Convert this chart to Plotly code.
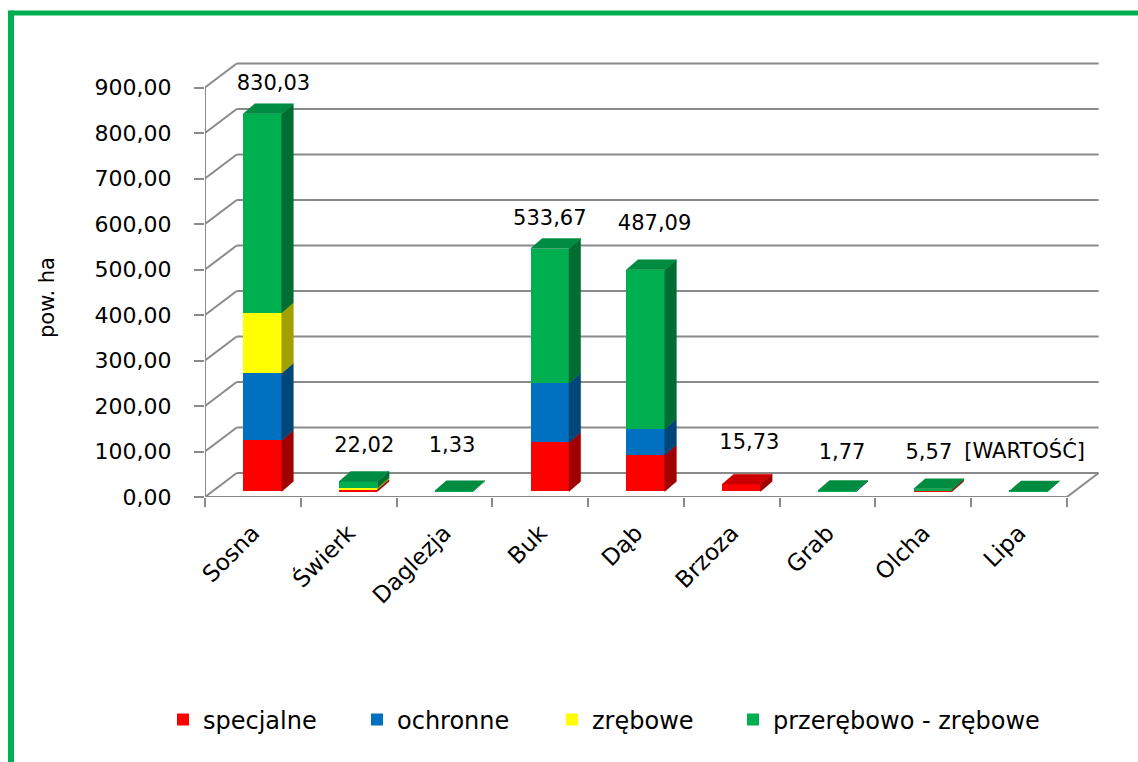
import plotly.graph_objects as go

# ---- data -------------------------------------------------------------
categories = ["Sosna", "Świerk", "Daglezja", "Buk", "Dąb", "Brzoza", "Grab", "Olcha", "Lipa"]
specjalne = [111.90, 4.00, 0.00, 107.50, 79.90, 15.73, 0.00, 3.00, 0.00]
ochronne = [148.00, 0.50, 0.00, 130.40, 57.10, 0.00, 0.30, 0.00, 0.00]
zrebowe = [133.00, 3.50, 0.00, 0.00, 0.00, 0.00, 0.00, 0.00, 0.00]
przerebowo_zrebowe = [437.13, 14.02, 1.33, 295.77, 350.09, 0.00, 1.47, 2.57, 0.90]
series_names = ["specjalne", "ochronne", "zrębowe", "przerębowo - zrębowe"]
y_ticks = [0, 100, 200, 300, 400, 500, 600, 700, 800, 900]
label_overrides = {8: "[WARTOŚĆ]"}

# ---- styling / geometry -------------------------------------------------
front_colors = ["#FF0000", "#0070C0", "#FFFF00", "#00B050"]
FONT = "DejaVu Sans"
GRID = "#8A8A8A"
W, H = 1138, 762
ML, MR, MT, MB = 205, 28, 42, 265
X_RANGE = [-0.5, 8.95]
Y_RANGE = [0, 1000]
PXC = (W - ML - MR) / (X_RANGE[1] - X_RANGE[0])   # px per category
PYU = (H - MT - MB) / (Y_RANGE[1] - Y_RANGE[0])   # px per value unit


def dx(px):
    return px / PXC


def dy(px):
    return px / PYU


def px_to_paper_x(px):
    return (px - ML) / (W - ML - MR)


def px_to_paper_y(py):
    return (H - MB - py) / (H - MT - MB)


# oblique depth of the walls and of the bars
WALL_DX, WALL_DY = dx(31.7), dy(24.0)
BAR_DX, BAR_DY = dx(11.6), dy(10.0)
BAR_SHIFT_X, BAR_BASE = dx(38.3) - 0.5, dy(5.6)   # front face position in the box
BAR_W = dx(38.4)

# label offsets (px) from the top-front centre of each column
label_shift = [(11, -29), (6, -35), (-2, -44), (0, -29), (9, -45),
               (8, -40), (5, -37), (-4, -35), (-4, -38)]
# left edge (px) of each legend entry
legend_left_px = [163, 357, 552, 733]


def shade(hex_color, k):
    h = hex_color.lstrip("#")
    r, g, b = (int(h[i:i + 2], 16) for i in (0, 2, 4))
    return "rgb({},{},{})".format(int(r * k), int(g * k), int(b * k))


series = [specjalne, ochronne, zrebowe, przerebowo_zrebowe]
n = len(categories)
totals = [sum(s[i] for s in series) for i in range(n)]
legend_ids = ["legend", "legend2", "legend3", "legend4"]

fig = go.Figure()

# front faces as stacked bars
cum = [0.0] * n
segments = []  # (series index, cat, y0, y1)
for k, (name, vals) in enumerate(zip(series_names, series)):
    bases = [BAR_BASE + c for c in cum]
    fig.add_trace(go.Bar(
        x=[i + BAR_SHIFT_X + BAR_W / 2 for i in range(n)],
        y=vals, base=bases, width=BAR_W, name=name, legend=legend_ids[k],
        marker=dict(color=front_colors[k], line=dict(width=0)),
        hoverinfo="skip",
    ))
    for i in range(n):
        if vals[i] > 0:
            segments.append((k, i, bases[i], bases[i] + vals[i]))
    cum = [c + v for c, v in zip(cum, vals)]

# right-hand side faces
for k in range(len(series)):
    xs, ys = [], []
    for (s, i, y0, y1) in segments:
        if s != k:
            continue
        xr = i + BAR_SHIFT_X + BAR_W
        xs += [xr, xr + BAR_DX, xr + BAR_DX, xr, xr, None]
        ys += [y0, y0 + BAR_DY, y1 + BAR_DY, y1, y0, None]
    if xs:
        col = shade(front_colors[k], 0.63)
        fig.add_trace(go.Scatter(x=xs, y=ys, mode="lines", fill="toself",
                                 fillcolor=col, line=dict(color=col, width=0.5),
                                 showlegend=False, hoverinfo="skip"))

# top faces of each column (colour of its highest segment)
for k in range(len(series)):
    xs, ys = [], []
    for i in range(n):
        top_k = max((s for (s, c, a, b) in segments if c == i), default=None)
        if top_k != k:
            continue
        y1 = BAR_BASE + totals[i]
        xl = i + BAR_SHIFT_X
        xr = xl + BAR_W
        xs += [xl, xr, xr + BAR_DX, xl + BAR_DX, xl, None]
        ys += [y1, y1, y1 + BAR_DY, y1 + BAR_DY, y1, None]
    if xs:
        col = shade(front_colors[k], 0.8)
        fig.add_trace(go.Scatter(x=xs, y=ys, mode="lines", fill="toself",
                                 fillcolor=col, line=dict(color=col, width=0.5),
                                 showlegend=False, hoverinfo="skip"))

# value labels
lab_x, lab_y, lab_t = [], [], []
for i in range(n):
    sx, sy = label_shift[i]
    lab_x.append(i + BAR_SHIFT_X + BAR_W / 2 + dx(sx))
    lab_y.append(BAR_BASE + totals[i] - dy(sy))
    lab_t.append(label_overrides.get(i, f"{totals[i]:.2f}".replace(".", ",")))
fig.add_trace(go.Scatter(x=lab_x, y=lab_y, text=lab_t, mode="text",
                         textposition="middle center",
                         textfont=dict(family=FONT, size=21, color="black"),
                         cliponaxis=False, showlegend=False, hoverinfo="skip"))

# walls: back-wall gridlines, left-wall diagonals, floor edges
shapes = []
x_left, x_right = -0.5, n - 0.5
for v in y_ticks:
    shapes.append(dict(type="line", xref="x", yref="y", layer="below",
                       x0=x_left + WALL_DX, x1=x_right + WALL_DX,
                       y0=v + WALL_DY, y1=v + WALL_DY,
                       line=dict(color=GRID, width=2)))
    shapes.append(dict(type="line", xref="x", yref="y", layer="below",
                       x0=x_left, x1=x_left + WALL_DX, y0=v, y1=v + WALL_DY,
                       line=dict(color=GRID, width=2)))
shapes.append(dict(type="line", xref="x", yref="y", layer="below",
                   x0=x_left, x1=x_left, y0=0, y1=y_ticks[-1],
                   line=dict(color=GRID, width=2)))
shapes.append(dict(type="line", xref="x", yref="y", layer="below",
                   x0=x_left, x1=x_right, y0=0, y1=0,
                   line=dict(color=GRID, width=2)))
shapes.append(dict(type="line", xref="x", yref="y", layer="below",
                   x0=x_right, x1=x_right + WALL_DX, y0=0, y1=WALL_DY,
                   line=dict(color=GRID, width=2)))

# green frame along the top and left edges
shapes.append(dict(type="line", xref="paper", yref="paper", layer="above",
                   x0=px_to_paper_x(11), x1=px_to_paper_x(W + 5),
                   y0=px_to_paper_y(13), y1=px_to_paper_y(13),
                   line=dict(color="#00B050", width=5)))
shapes.append(dict(type="line", xref="paper", yref="paper", layer="above",
                   x0=px_to_paper_x(11), x1=px_to_paper_x(11),
                   y0=px_to_paper_y(10.5), y1=px_to_paper_y(H + 5),
                   line=dict(color="#00B050", width=6)))

legend_style = dict(orientation="h", xanchor="left", yanchor="middle",
                    y=px_to_paper_y(720),
                    font=dict(family=FONT, size=24, color="black"),
                    bgcolor="rgba(0,0,0,0)")
legends = {lid: dict(legend_style, x=px_to_paper_x(legend_left_px[k]))
           for k, lid in enumerate(legend_ids)}

fig.update_layout(
    width=W, height=H,
    margin=dict(l=ML, r=MR, t=MT, b=MB, autoexpand=False),
    paper_bgcolor="white", plot_bgcolor="white",
    barmode="overlay", bargap=0,
    separators=", ",
    font=dict(family=FONT, size=22, color="black"),
    shapes=shapes,
    showlegend=True,
    annotations=[dict(text="pow. ha", textangle=-90, showarrow=False,
                      xref="paper", yref="paper",
                      x=px_to_paper_x(47), y=px_to_paper_y(298),
                      xanchor="center", yanchor="middle",
                      font=dict(family=FONT, size=21, color="black"))],
    **legends,
)
fig.update_xaxes(
    range=X_RANGE, showgrid=False, zeroline=False, showline=False,
    tickmode="array", tickvals=list(range(n)), ticktext=categories,
    tickangle=-45, ticks="", ticklabelstandoff=17,
    tickfont=dict(family=FONT, size=23, color="black"),
    minor=dict(tickmode="array", tickvals=[i - 0.5 for i in range(n + 1)],
               ticks="outside", ticklen=9, tickwidth=2, tickcolor=GRID),
    fixedrange=True,
)
fig.update_yaxes(
    range=Y_RANGE, showgrid=False, zeroline=False, showline=False,
    tickmode="array", tickvals=y_ticks, tickformat=".2f",
    ticks="outside", ticklen=10, tickwidth=2, tickcolor=GRID,
    ticklabelstandoff=18,
    tickfont=dict(family=FONT, size=22, color="black"),
    automargin=False, fixedrange=True,
)

fig.write_html("out.html")
